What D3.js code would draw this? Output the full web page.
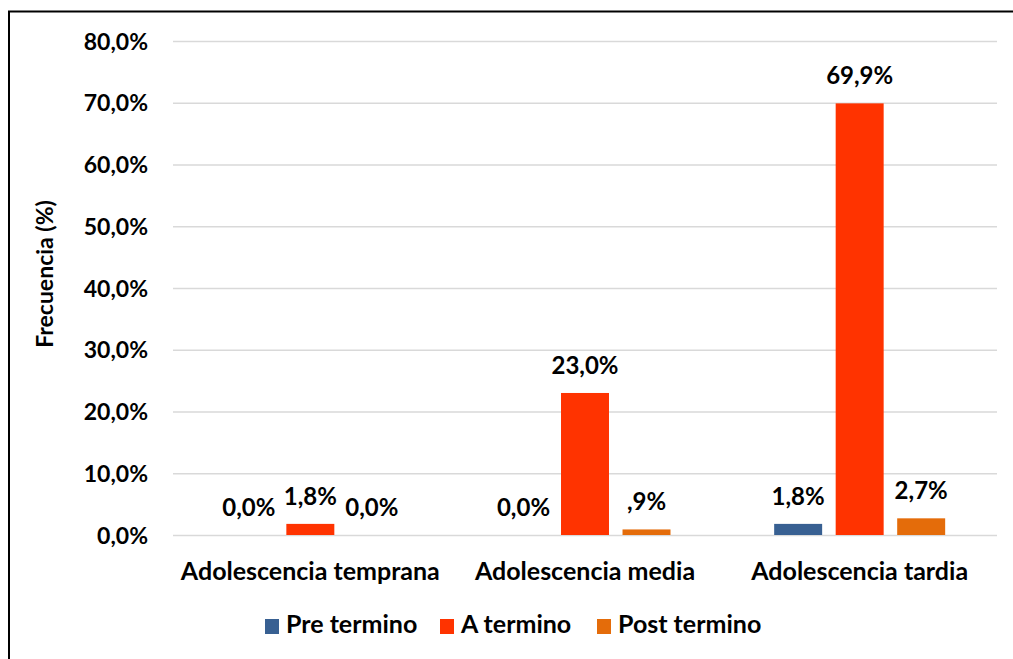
<!DOCTYPE html>
<html>
<head>
<meta charset="utf-8">
<script src="https://cdn.jsdelivr.net/npm/d3@7"></script>
<style>
  html, body { margin: 0; padding: 0; background: #fff; }
  svg { display: block; font-family: Lato, "Open Sans", sans-serif; font-weight: bold; }
</style>
</head>
<body>
<svg id="chart" width="1013" height="659"></svg>
<script>
// Age groups on the x axis
const categories = ["Adolescencia temprana", "Adolescencia media", "Adolescencia tardia"];
// Gestational age series
const series = ["Pre termino", "A termino", "Post termino"];
const colors = ["#386092", "#FF3300", "#E46C0A"];
// Percentages per series, one value per age group
const preTermino = [0.0, 0.0, 1.8];
const aTermino = [1.8, 23.0, 69.9];
const postTermino = [0.0, 0.9, 2.7];
const yTicks = [0, 10, 20, 30, 40, 50, 60, 70, 80];

const values = [preTermino, aTermino, postTermino];

// Percent label in the "0,0%" style, without a leading zero below 1
function fmt(v) {
  let s = v.toFixed(1).replace(".", ",");
  if (v > 0 && v < 1) s = s.slice(1);
  return s + "%";
}
function tickFmt(v) { return v.toFixed(1).replace(".", ",") + "%"; }

const svg = d3.select("#chart");

// Outer frame (left and top edges)
svg.append("path")
  .attr("d", "M9,659 V11.5 H1013")
  .attr("fill", "none").attr("stroke", "#000").attr("stroke-width", 2);

const plot = { left: 173, right: 997, top: 41, bottom: 535 };

const y = d3.scaleLinear().domain([0, 80]).range([plot.bottom, plot.top]);
const x0 = d3.scaleBand().domain(categories).range([plot.left, plot.right]);
const x1 = d3.scaleBand().domain(series).range([-85.5, 85.5]).paddingInner(0.22).paddingOuter(0);

// Horizontal gridlines
svg.append("g").selectAll("line").data(yTicks).join("line")
  .attr("x1", plot.left).attr("x2", plot.right)
  .attr("y1", d => y(d) + 0.5).attr("y2", d => y(d) + 0.5)
  .attr("stroke", "#d9d9d9").attr("stroke-width", 1.5);

// Y axis tick labels
const yAxis = d3.axisLeft(y).tickValues(yTicks).tickFormat(tickFmt).tickSize(0).tickPadding(0);
const ya = svg.append("g").attr("transform", `translate(${plot.left - 25},0)`).call(yAxis);
ya.select(".domain").remove();
ya.selectAll("text")
  .attr("font-family", "Lato, sans-serif").attr("font-weight", "bold")
  .attr("font-size", 23).attr("fill", "#000").attr("dy", "0.35em");

// X axis category labels
const xAxis = d3.axisBottom(x0).tickSize(0).tickPadding(0);
const xa = svg.append("g").attr("transform", `translate(0,${plot.bottom})`).call(xAxis);
xa.select(".domain").remove();
xa.selectAll("text")
  .attr("font-family", "Lato, sans-serif").attr("font-weight", "bold")
  .attr("font-size", 25).attr("fill", "#000").attr("dy", null).attr("y", 45);

// Y axis title
svg.append("text")
  .attr("transform", `translate(53,274) rotate(-90)`)
  .attr("text-anchor", "middle").attr("font-size", 23).attr("fill", "#000")
  .text("Frecuencia (%)");

// Bars and value labels
const rows = [];
series.forEach((s, si) => categories.forEach((c, ci) => rows.push({ s, si, c, v: values[si][ci] })));

const cx = d => x0(d.c) + x0.bandwidth() / 2 + x1(d.s);

svg.append("g").selectAll("rect").data(rows).join("rect")
  .attr("x", d => cx(d))
  .attr("y", d => y(d.v))
  .attr("width", x1.bandwidth())
  .attr("height", d => y(0) - y(d.v))
  .attr("fill", d => colors[d.si]);

svg.append("g").selectAll("text").data(rows).join("text")
  .attr("x", d => cx(d) + x1.bandwidth() / 2)
  .attr("y", d => y(d.v) - 19)
  .attr("text-anchor", "middle").attr("font-size", 24).attr("fill", "#000")
  .text(d => fmt(d.v));

// Legend
const legendX = [265, 440, 597];
const lg = svg.append("g").selectAll("g").data(series).join("g")
  .attr("transform", (d, i) => `translate(${legendX[i]},619)`);
lg.append("rect").attr("width", 14).attr("height", 15).attr("fill", (d, i) => colors[i]);
lg.append("text").attr("x", 21).attr("y", 14)
  .attr("font-size", 25).attr("fill", "#000").text(d => d);
</script>
</body>
</html>
